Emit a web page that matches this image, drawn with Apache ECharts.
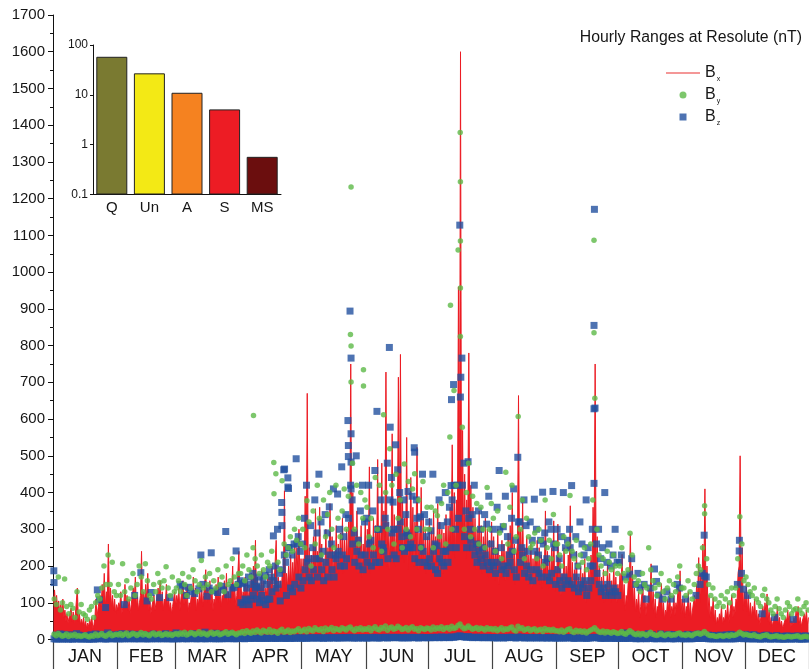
<!DOCTYPE html>
<html>
<head>
<meta charset="utf-8">
<script src="https://cdn.jsdelivr.net/npm/echarts@6/dist/echarts.min.js"></script>
<style>
html, body { margin: 0; padding: 0; background: #fff; }
#chart { width: 809px; height: 669px; }
</style>
</head>
<body>
<div id="chart"></div>
<script>
// Month names and lengths (non-leap year, day index 0..364)
const months = ['JAN', 'FEB', 'MAR', 'APR', 'MAY', 'JUN', 'JUL', 'AUG', 'SEP', 'OCT', 'NOV', 'DEC'];
const monthDays = [31, 28, 31, 30, 31, 30, 31, 31, 30, 31, 30, 31];

// Bx: daily peak hourly range and the typical (background) level of that day, nT
const bxMax = [
  [135,120,105,95,110,80,70,60,85,75,65,140,70,55,60,50,45,55,60,40,110,85,120,150,180,130,260,140,120,110,95],
  [100,130,90,150,120,110,95,140,170,120,100,240,130,150,180,110,90,120,100,140,160,130,110,150,120,100,90,130],
  [120,140,110,160,130,150,100,120,170,140,110,130,150,120,190,140,160,130,110,150,170,140,120,160,180,130,150,200,140,120,240],
  [150,130,170,160,140,180,200,270,170,150,190,160,140,180,170,200,150,270,170,160,190,405,180,200,230,210,260,250,300,220],
  [220,390,670,250,230,280,356,240,360,260,220,300,250,370,280,240,310,260,290,330,270,300,320,750,400,300,350,280,310,260,330],
  [300,470,280,330,310,490,300,480,350,728,320,290,560,340,310,714,776,380,330,550,300,441,360,320,523,290,414,330,300,280],
  [330,300,350,280,370,320,300,290,340,310,360,530,400,380,960,1600,569,450,380,780,420,360,330,300,350,310,280,330,300,270,320],
  [280,250,300,230,270,260,240,290,310,400,260,230,664,300,378,250,280,230,260,220,240,270,250,230,210,350,240,220,250,323,200],
  [314,220,180,250,200,230,364,210,190,240,170,200,180,220,160,190,230,360,750,280,200,170,190,150,210,180,160,200,170,150],
  [180,232,150,120,160,287,200,140,110,130,90,150,120,100,140,206,130,110,90,120,152,100,80,110,130,90,120,100,140,187,110],
  [110,90,130,100,80,120,150,223,180,260,410,200,120,90,114,80,60,70,90,60,80,100,70,120,90,110,180,500,250,130],
  [150,120,100,90,110,80,70,60,90,100,124,80,60,50,70,90,60,50,40,60,80,70,50,60,78,90,60,50,70,80,60]
];
const bxTyp = [
  [100,90,80,70,75,60,50,45,55,50,45,70,50,40,40,35,30,35,40,30,60,60,80,90,110,90,120,100,90,80,70],
  [80,90,70,100,90,80,70,90,110,90,80,120,90,100,110,80,70,90,80,100,110,90,80,100,90,80,70,90],
  [90,100,80,110,95,100,75,90,110,100,80,95,100,90,120,100,110,95,80,100,110,100,90,110,120,95,100,130,100,90,120],
  [110,100,120,115,100,120,130,150,120,110,130,115,100,120,120,140,110,150,120,115,130,180,130,140,150,140,160,160,180,150],
  [150,170,180,160,150,170,190,160,190,170,150,180,160,190,170,160,190,170,180,200,180,190,200,260,220,190,210,180,200,170,200],
  [190,230,180,200,190,240,190,230,210,280,200,190,260,210,200,280,300,220,210,250,190,230,220,200,250,190,220,210,190,180],
  [200,190,210,180,220,200,190,180,210,190,220,260,230,220,300,350,260,240,220,300,240,220,200,190,210,200,180,200,190,170,190],
  [180,160,190,150,170,170,160,180,190,220,170,150,260,190,210,160,180,150,170,140,150,170,160,150,140,190,150,140,160,180,130],
  [170,140,120,150,130,140,190,130,120,150,110,130,120,140,100,120,140,180,260,160,130,110,120,100,130,110,100,120,110,100],
  [110,130,100,80,100,150,120,90,75,85,60,90,80,65,90,110,85,70,60,80,90,65,55,70,80,60,75,65,85,100,70],
  [70,60,80,65,55,75,90,120,100,130,170,120,75,60,70,50,40,45,55,40,50,60,45,70,60,70,100,200,140,80],
  [90,75,65,60,70,55,45,40,55,60,70,50,40,35,45,55,40,35,30,40,50,45,35,40,45,55,40,35,45,50,40]
];

// By: daily high and quiet-hour low of the hourly range, nT
const byHigh = [
  [110,95,170,80,100,165,90,70,95,85,60,130,75,95,70,65,55,80,90,60,100,120,110,140,200,150,230,150,210,130,120],
  [150,120,206,130,160,110,140,180,120,150,200,170,130,206,160,120,110,150,130,180,155,140,160,198,140,120,170,130],
  [140,160,130,180,150,120,170,140,190,160,130,150,215,140,170,150,180,130,160,140,190,150,170,130,200,150,160,220,170,150,180],
  [180,200,160,230,190,170,250,220,200,180,230,190,170,210,200,240,482,451,210,190,432,260,230,250,280,240,300,270,330,260],
  [300,250,378,320,200,350,260,420,330,230,380,280,340,400,300,250,420,330,280,350,410,300,390,830,480,300,420,260,400,330,380],
  [360,280,330,250,441,300,420,240,612,400,300,519,420,260,450,330,380,250,478,300,430,280,410,451,300,380,250,430,300,360],
  [300,360,250,350,337,280,370,420,260,400,551,300,678,420,1060,1380,578,300,400,480,280,390,300,370,260,360,300,250,414,300,370],
  [330,240,350,290,220,310,455,260,360,420,240,280,607,300,380,220,330,280,250,260,290,220,300,270,200,380,250,270,220,340,260],
  [260,230,200,280,240,260,392,240,220,270,200,230,210,250,190,220,260,380,657,300,230,200,220,180,240,210,190,230,200,180],
  [200,250,180,160,190,289,230,170,150,160,130,180,150,140,250,190,160,140,120,150,180,130,110,140,160,120,150,130,170,200,140],
  [140,120,160,130,110,150,180,200,190,250,364,220,150,120,140,110,90,100,120,90,110,130,100,140,120,140,220,334,260,160],
  [170,150,130,120,140,110,100,90,120,137,110,100,80,70,90,110,84,70,60,80,100,90,70,80,84,110,80,70,90,100,80]
];
const byLow = [
  [14,10,16,12,9,11,15,8,12,10,14,9,11,8,10,13,9,7,11,9,15,10,12,16,11,9,13,17,10,12,14],
  [12,16,11,14,18,10,13,17,15,11,14,19,12,16,13,10,15,18,12,14,17,11,13,16,12,15,11,14],
  [16,13,18,14,20,12,15,19,17,13,16,21,14,18,15,12,17,20,14,16,19,13,15,18,21,14,17,20,16,13,18],
  [18,22,16,24,20,17,23,19,26,21,18,25,22,20,27,19,23,21,17,24,28,20,22,26,19,23,21,25,29,22],
  [24,28,21,30,26,23,32,27,25,29,22,31,26,28,33,24,30,27,25,32,29,26,31,34,28,24,30,27,32,26,29],
  [27,32,24,30,35,28,26,33,29,37,25,31,34,28,30,36,32,27,29,33,26,31,35,28,30,24,32,29,27,31],
  [30,26,34,28,32,29,35,27,31,33,28,36,30,32,38,42,34,29,31,37,32,28,30,33,27,31,29,26,32,28,30],
  [26,30,24,28,32,25,29,27,31,34,26,23,36,29,32,25,28,30,24,27,29,23,26,28,22,30,25,27,24,28,23],
  [24,21,26,20,23,27,29,22,19,25,21,24,20,23,18,22,25,28,32,26,21,19,23,18,22,20,17,21,19,16],
  [18,22,16,14,19,24,20,15,13,17,12,16,14,11,15,20,14,12,11,13,17,12,10,14,15,11,13,12,16,18,12],
  [13,11,15,12,10,14,16,18,14,17,22,16,12,10,11,9,8,10,11,8,10,12,9,13,11,12,15,20,16,12],
  [14,12,11,10,13,9,8,7,10,11,13,9,7,8,9,10,7,8,6,7,9,8,7,8,9,10,7,6,8,9,7]
];
// By storm-time hours beyond the daily high: [day of year, nT]
const byStorm = [
  [96.8,610],[106.7,397],[143.9,1232],[143.9,799],[143.9,701],[149.9,734],[149.9,690],
  [196.7,1246],[196.7,1085],[196.7,957],[196.7,825],[191.9,910],
  [261.2,1087],[261.2,835],[314.6,342]
];

// Bz: daily high and quiet-hour low of the hourly range, nT
const bzHigh = [
  [187,12,10,15,9,14,11,8,13,10,9,16,12,8,10,9,8,11,13,9,15,135,108,14,12,87,18,13,11,10,12],
  [14,12,16,95,11,13,15,12,120,14,10,182,13,12,105,11,128,15,12,10,114,13,11,16,12,114,10,13],
  [18,15,150,145,14,120,142,130,16,125,12,138,230,150,20,118,140,236,132,17,128,15,145,135,294,122,16,140,142,241,150],
  [160,152,155,140,170,150,180,160,145,170,141,160,175,150,190,170,282,200,300,180,373,462,210,440,250,230,260,492,280,240],
  [260,330,420,220,310,250,380,290,450,320,240,340,290,361,260,410,230,396,300,470,280,340,596,894,380,290,500,270,350,420,320],
  [330,420,270,350,460,621,300,380,250,330,480,795,441,300,530,462,400,280,380,340,403,250,390,522,380,300,334,450,340,280],
  [320,296,450,260,255,380,310,240,400,320,360,653,694,300,420,1128,766,480,350,484,300,340,420,260,350,300,250,340,314,390,260],
  [300,240,360,460,250,307,390,280,230,330,410,270,496,320,250,380,310,240,320,270,382,300,230,270,401,290,220,320,300,403,250],
  [300,220,280,400,250,270,300,419,230,280,200,320,260,230,380,250,200,300,1171,260,300,220,250,400,210,260,200,230,300,210],
  [210,230,18,170,15,178,220,14,150,180,141,12,150,110,16,140,13,192,158,121,15,110,12,130,14,110,13,12,150,140,11],
  [12,110,14,11,10,13,120,15,150,180,284,170,12,10,11,9,10,9,12,8,10,13,9,14,11,12,150,270,180,137],
  [14,120,12,11,13,10,9,8,70,11,12,10,8,9,60,11,8,9,7,8,10,9,8,55,9,10,8,7,9,10,8]
];
// Bz second active hour per day, April to September only
const bzActiveFrom = 3;
const bzActive = [
  [100,95,110,105,95,110,120,140,110,100,120,105,95,110,110,130,160,140,150,105,190,230,120,250,140,130,150,260,170,140],
  [160,190,210,170,160,190,220,170,220,190,160,210,170,230,190,170,220,240,200,230,200,220,330,420,260,210,240,200,230,190,230],
  [210,260,200,230,210,300,210,260,240,310,220,380,290,230,220,300,320,250,240,290,250,260,250,220,330,210,250,240,210,200],
  [220,200,240,190,180,220,210,200,240,210,250,380,420,250,330,660,420,280,250,330,270,250,230,210,240,220,200,230,210,190,210],
  [200,180,210,300,190,200,180,200,210,240,190,170,320,210,230,180,200,170,190,160,240,190,180,170,260,210,170,160,180,260,150],
  [190,160,140,170,150,160,250,150,140,170,130,150,140,160,120,140,160,200,630,180,150,130,140,120,150,130,120,140,130,120]
];
const bzLow = [
  [2,1,2,2,1,2,2,1,2,1,2,2,2,1,2,2,1,1,2,1,2,2,2,3,2,1,2,3,2,2,2],
  [2,2,2,2,3,2,2,3,2,2,2,3,2,2,2,2,2,3,2,2,3,2,2,3,2,2,2,2],
  [2,2,3,2,3,2,2,3,3,2,2,3,2,3,2,2,3,3,2,2,3,2,2,3,3,2,3,3,2,2,3],
  [3,3,2,4,3,3,4,3,4,3,3,4,3,3,4,3,4,3,3,4,4,3,3,4,3,4,3,4,5,3],
  [4,4,3,5,4,4,5,4,4,5,3,5,4,4,5,4,5,4,4,5,5,4,5,6,4,4,5,4,5,4,5],
  [4,5,4,5,6,4,4,5,5,6,4,5,6,5,5,6,5,4,5,6,4,5,6,5,5,4,6,5,5,5],
  [5,5,6,5,6,5,7,5,6,6,5,7,6,7,9,10,8,7,6,8,6,5,6,6,5,6,5,5,6,5,5],
  [5,5,4,5,6,4,5,5,6,6,5,4,7,5,6,4,5,5,4,5,5,4,5,5,4,5,4,5,4,5,4],
  [4,4,5,4,4,5,5,4,3,4,4,4,4,4,3,4,4,5,6,5,4,3,4,3,4,4,3,4,3,3],
  [3,4,3,3,3,4,4,3,2,3,2,3,3,2,3,4,3,2,2,3,3,2,2,3,3,2,2,2,3,3,2],
  [2,2,3,2,2,3,3,3,3,3,4,3,2,2,2,2,2,2,2,2,2,2,2,2,2,2,3,4,3,2],
  [3,2,2,2,2,2,2,1,2,2,2,2,1,2,2,2,1,2,1,1,2,2,1,2,2,2,1,1,2,2,1]
];
// Bz storm-time hours beyond the daily high: [day of year, nT]
const bzStorm = [
  [0.5,155],[110.5,346],[110.5,310],[111.8,464],[113.4,415],[113.7,411],
  [142.6,528],[142.6,498],[143.9,766],[143.9,560],[143.9,483],[143.9,410],
  [162.8,578],[164.2,374],[171.4,282],[174.6,510],[192.2,419],[196.9,714],
  [261.2,855],[261.2,628],[261.2,425],[314.5,173],[331.3,241]
];

// Inset: share of hours (%) by activity class, log scale
const classNames = ['Q', 'Un', 'A', 'S', 'MS'];
const classShare = [58, 27, 11, 5.1, 0.57];
const classColors = ['#7a7a31', '#f3e915', '#f58220', '#ed1c24', '#6b0e0e'];

// ---- build series data on a day-of-year scale ----
const monthStart = [];
monthDays.reduce((acc, n) => { monthStart.push(acc); return acc + n; }, 0);
const yearDays = monthDays.reduce((a, b) => a + b, 0);
const monthMid = monthStart.map((s, i) => s + monthDays[i] / 2);

function byDay(name, rows) {
  rows.forEach((r, i) => {
    if (r.length !== monthDays[i]) throw new Error(name + ' month ' + i + ' has ' + r.length);
  });
  return rows.flat();
}
const bxMaxD = byDay('bxMax', bxMax);
const bxTypD = byDay('bxTyp', bxTyp);
const byHighD = byDay('byHigh', byHigh);
const byLowD = byDay('byLow', byLow);
const bzHighD = byDay('bzHigh', bzHigh);
const bzLowD = byDay('bzLow', bzLow);

const bxLine = [];
const byPts = [];
const bzPts = [];
for (let d = 0; d < yearDays; d++) {
  bxLine.push([d + 0.25, bxTypD[d]]);
  bxLine.push([d + 0.75, bxMaxD[d]]);
  byPts.push([d + 0.5, byLowD[d]], [d + 0.6, byHighD[d]]);
  bzPts.push([d + 0.5, bzLowD[d]], [d + 0.4, bzHighD[d]]);
}
bzActive.forEach((row, k) => {
  const m = bzActiveFrom + k;
  if (row.length !== monthDays[m]) throw new Error('bzActive month ' + m + ' has ' + row.length);
  row.forEach((v, i) => bzPts.push([monthStart[m] + i + 0.7, v]));
});
byStorm.forEach(p => byPts.push(p));
bzStorm.forEach(p => bzPts.push(p));

const FONT = 'Liberation Sans, Arial, sans-serif';
const INK = '#161616';

const chart = echarts.init(document.getElementById('chart'), null, { renderer: 'canvas' });
chart.setOption({
  animation: false,
  backgroundColor: '#fff',
  textStyle: { fontFamily: FONT },
  title: {
    text: 'Hourly Ranges at Resolute (nT)',
    right: 2, top: 25,
    textStyle: { fontSize: 15.8, fontWeight: 'normal', color: INK, fontFamily: FONT }
  },
  legend: {
    orient: 'vertical',
    left: 661, top: 58,
    itemWidth: 34, itemHeight: 7, itemGap: 2,
    data: [
      { name: 'Bx', icon: 'path://M0,0L34,0L34,1.4L0,1.4Z', itemStyle: { color: '#f07474' } },
      { name: 'By', icon: 'circle' },
      { name: 'Bz', icon: 'path://M0,0L10,0L10,10L0,10Z' }
    ],
    formatter: n => '{b|B}{s|' + n.slice(1) + '}',
    textStyle: {
      color: INK, fontFamily: FONT,
      rich: {
        b: { fontSize: 16, lineHeight: 18, color: INK, fontFamily: FONT },
        s: { fontSize: 7, lineHeight: 18, color: INK, fontFamily: FONT, padding: [13, 0, 0, 1] }
      }
    }
  },
  grid: [
    { left: 53, top: 15, width: 760, height: 624.5 },
    { left: 93, top: 45, width: 188, height: 149.5 }
  ],
  xAxis: [
    {
      gridIndex: 0, type: 'value', min: 0, max: yearDays,
      axisLine: { show: true, onZero: false, lineStyle: { color: '#111', width: 1 } },
      axisTick: { show: true, customValues: monthStart.concat([yearDays]), length: 30, lineStyle: { color: '#444', width: 1.2 } },
      axisLabel: {
        customValues: monthMid,
        formatter: v => months[monthMid.indexOf(v)],
        fontSize: 18, margin: 9, color: INK, fontFamily: FONT
      },
      splitLine: { show: false }
    },
    {
      gridIndex: 1, type: 'category', data: classNames,
      axisLine: { show: true, lineStyle: { color: '#111' } },
      axisTick: { show: false },
      axisLabel: { fontSize: 15, color: INK, margin: 6, fontFamily: FONT },
      splitLine: { show: false }
    }
  ],
  yAxis: [
    {
      gridIndex: 0, type: 'value', min: 0, max: 1700, interval: 100,
      axisLine: { show: true, lineStyle: { color: '#111' } },
      axisTick: { show: true, length: 5, lineStyle: { color: '#111' } },
      minorTick: { show: true, splitNumber: 2, length: 3, lineStyle: { color: '#111' } },
      axisLabel: { fontSize: 15, color: INK, margin: 8, fontFamily: FONT, formatter: v => String(v) },
      splitLine: { show: false }
    },
    {
      gridIndex: 1, type: 'log', logBase: 10, min: 0.1, max: 100, startValue: 0.1,
      axisLine: { show: true, lineStyle: { color: '#111' } },
      axisTick: { show: true, length: 3, lineStyle: { color: '#111' } },
      axisLabel: { fontSize: 12, color: INK, margin: 5, fontFamily: FONT, formatter: v => String(v) },
      splitLine: { show: false }
    }
  ],
  series: [
    {
      name: 'Bx', type: 'line', xAxisIndex: 0, yAxisIndex: 0,
      symbol: 'none', showSymbol: false, sampling: 'none',
      lineStyle: { width: 1, color: '#ec1c24' },
      itemStyle: { color: '#ec1c24' },
      areaStyle: { color: '#ec1c24', opacity: 1 },
      data: bxLine, z: 2
    },
    {
      name: 'Bz', type: 'scatter', xAxisIndex: 0, yAxisIndex: 0,
      symbol: 'rect', symbolSize: 7,
      itemStyle: { color: '#22509f' },
      data: bzPts, z: 3
    },
    {
      name: 'By', type: 'scatter', xAxisIndex: 0, yAxisIndex: 0,
      symbol: 'circle', symbolSize: 5.5,
      itemStyle: { color: '#5cb947' },
      data: byPts, z: 4
    },
    {
      name: 'share', type: 'bar', xAxisIndex: 1, yAxisIndex: 1,
      barWidth: 31,
      data: classShare.map((v, i) => ({
        value: v,
        itemStyle: { color: classColors[i], borderColor: '#222', borderWidth: 1 }
      })),
      z: 5
    }
  ]
});
</script>
</body>
</html>
